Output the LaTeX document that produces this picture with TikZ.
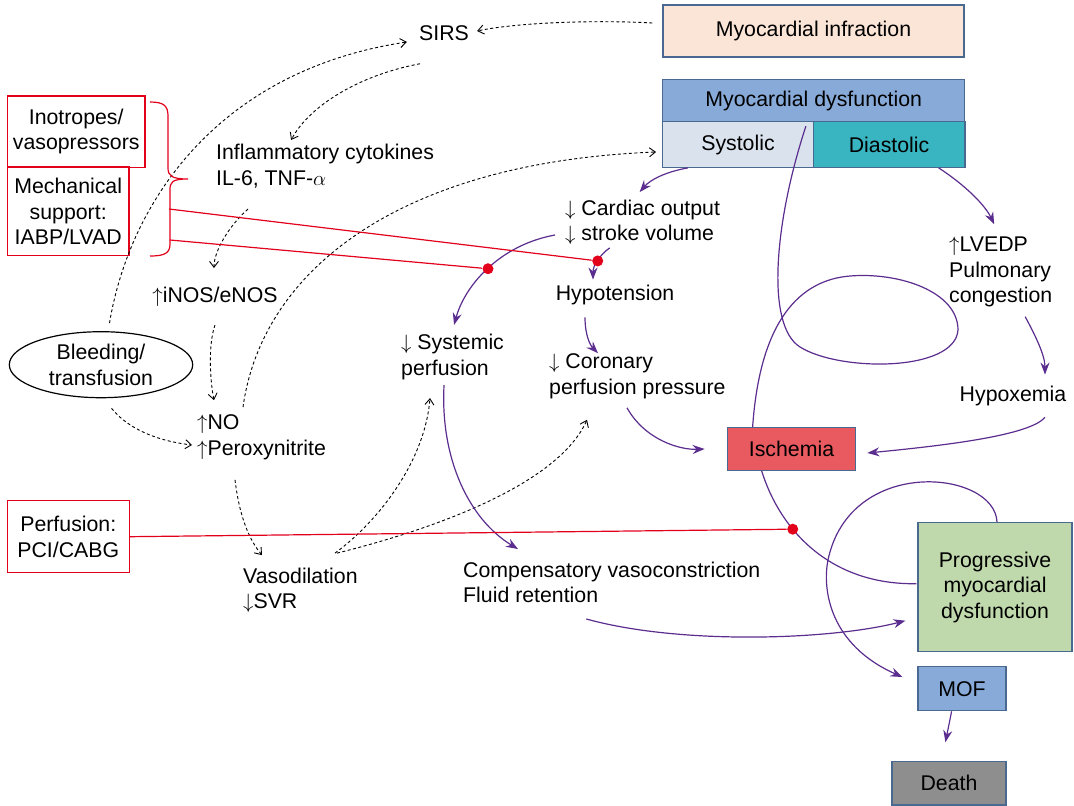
\documentclass[tikz,border=0pt]{standalone}
\usepackage{fontspec}
\setmainfont{Liberation Sans}
\usepackage{tikz}
\usetikzlibrary{arrows.meta,shapes.geometric,positioning}
\definecolor{boxline}{HTML}{4A6991}
\definecolor{mifill}{HTML}{FBE5D7}
\definecolor{dysfill}{HTML}{87AAD8}
\definecolor{sysfill}{HTML}{DAE2EE}
\definecolor{diafill}{HTML}{38B5C0}
\definecolor{ischfill}{HTML}{E85A5F}
\definecolor{progfill}{HTML}{C0D9AC}
\definecolor{deathfill}{HTML}{8E8E8E}
\definecolor{flowpurple}{HTML}{5B2D8E}
\definecolor{inhred}{HTML}{E3001B}

\begin{document}
\begin{tikzpicture}[x=1pt,y=-1pt,font=\fontsize{21.3}{25.5}\selectfont,
	box/.style={draw=boxline,line width=1.2pt,align=center,inner sep=0pt},
	redbox/.style={draw=inhred,line width=1.2pt,align=center,inner sep=0pt},
	txt/.style={inner sep=2pt,align=left},
	flow/.style={draw=flowpurple,line width=1.2pt,-{Stealth[length=12pt,width=9pt,inset=4pt]}},
	flowline/.style={draw=flowpurple,line width=1.2pt},
	dotarrow/.style={line width=0.9pt,dash pattern=on 3pt off 2.5pt,-{Straight Barb[length=6pt,width=9pt]}},
	inh/.style={draw=inhred,line width=1.2pt},
	reddot/.style={circle,fill=inhred,inner sep=0pt,minimum size=11pt}]
				\useasboundingbox (0,0) rectangle (1074,806);
				%boxes on the right
				\node[box,fill=mifill,minimum width=301pt,minimum height=52pt] (mi) at (813.5,31) {Myocardial infraction};
				\node[box,fill=dysfill,minimum width=302pt,minimum height=42.5pt] (dys) at (813.8,100.5) {Myocardial dysfunction};
				\node[box,fill=sysfill,minimum width=150.6pt,minimum height=45.5pt] (sys) at (738,144.5) {Systolic};
				\node[box,fill=diafill,minimum width=151.6pt,minimum height=45.5pt] (dia) at (889.1,144.5) {Diastolic};
				\node[box,fill=ischfill,minimum width=128.6pt,minimum height=42.3pt] (isch) at (791.5,449) {Ischemia};
				\node[box,fill=progfill,minimum width=154pt,minimum height=129pt] (prog) at (995,587.2) {Progressive\\myocardial\\dysfunction};
				\node[box,fill=dysfill,minimum width=88pt,minimum height=44pt] (mof) at (962,688.7) {MOF};
				\node[box,fill=deathfill,minimum width=114pt,minimum height=43.5pt] (death) at (949,783.3) {Death};
				%treatments on the left
				\node[redbox,minimum width=137.7pt,minimum height=71.3pt] (ino) at (76.2,131.7) {Inotropes/\\vasopressors};
				\node[redbox,minimum width=121.7pt,minimum height=88.7pt] (mech) at (68.2,211.4) {Mechanical\\support:\\IABP/LVAD};
				\node[redbox,minimum width=122pt,minimum height=72pt] (perf) at (68.3,536.7) {Perfusion:\\PCI/CABG};
				\node[ellipse,draw,line width=1.2pt,inner sep=0pt,minimum width=183.4pt,minimum height=66pt,align=center] (bleed) at (101,364.7) {Bleeding/\\transfusion};
				%plain texts
				\node[txt] (sirs) at (444,33) {SIRS};
				\node[txt,anchor=west] (cyto) at (214,166) {Inflammatory cytokines\\IL-6, TNF-$\alpha$};
				\node[txt] (inos) at (215,297) {$\uparrow$iNOS/eNOS};
				\node[txt,anchor=west] (no) at (195,437.5) {$\uparrow$NO\\$\uparrow$Peroxynitrite};
				\node[txt,anchor=west] (vaso) at (241,590.5) {Vasodilation\\$\downarrow$SVR};
				\node[txt,anchor=west] (co) at (563,222.2) {$\downarrow$ Cardiac output\\$\downarrow$ stroke volume};
				\node[txt] (hypo) at (615,294.7) {Hypotension};
				\node[txt,anchor=west] (sysp) at (399,357.2) {$\downarrow$ Systemic\\perfusion};
				\node[txt,anchor=west] (corp) at (547,376.5) {$\downarrow$ Coronary\\perfusion pressure};
				\node[txt,anchor=west] (lvedp) at (947,272) {$\uparrow$LVEDP\\Pulmonary\\congestion};
				\node[txt] (hypox) at (1013,396.4) {Hypoxemia};
				\node[txt,anchor=west] (comp) at (461,582.2) {Compensatory vasoconstriction\\Fluid retention};

				%% dotted pathways
				\draw[dotarrow] ([xshift=-10pt,yshift=8pt]mi.west) .. controls (600,20) and (520,22) .. ([xshift=6pt,yshift=2pt]sirs.east);
				\draw[dotarrow] ([xshift=8.5pt,yshift=8pt]bleed.north) .. controls (130,200) and (220,70) .. ([xshift=-10pt,yshift=-9pt]sirs.west);
				\draw[dotarrow] ([xshift=-24pt,yshift=-21pt]sirs.south) .. controls (360,75) and (310,105) .. ([xshift=-34pt,yshift=2pt]cyto.north);
				\draw[dotarrow] ([xshift=34pt,yshift=-19pt]cyto.south west) .. controls (230,225) and (214,250) .. ([xshift=-1pt,yshift=17pt]inos.north);
				\draw[dotarrow] ([yshift=-16pt]inos.south) .. controls (208,345) and (210,380) .. ([xshift=19pt,yshift=12.7pt]no.north west);
				\draw[dotarrow] ([xshift=48pt,yshift=5.7pt]no.north west) .. controls (262,270) and (400,162) .. ([xshift=-6pt,yshift=-7.5pt]sys.west);
				\draw[dotarrow] ([xshift=10.5pt,yshift=-10pt]bleed.south) .. controls (125,425) and (150,440) .. ([xshift=-3pt,yshift=-7.5pt]no.west);
				\draw[dotarrow] ([xshift=40pt,yshift=-17.7pt]no.south west) .. controls (238,505) and (245,535) .. ([xshift=21pt,yshift=10.7pt]vaso.north west);
				\draw[dotarrow] ([xshift=94pt,yshift=12.7pt]vaso.north west) .. controls (380,520) and (425,460) .. ([xshift=31pt,yshift=-16pt]sysp.south west);
				\draw[dotarrow] ([xshift=96pt,yshift=12.7pt]vaso.north west) .. controls (450,525) and (560,480) .. ([xshift=40pt,yshift=-18.7pt]corp.south west);

				%% solid pathways
				\draw[flow] ([xshift=-50pt]sys.south) .. controls (665,172) and (650,180) .. ([xshift=-3pt,yshift=5.4pt]co.north);
				\draw[flow] ([xshift=-8pt,yshift=-12.8pt]co.west) .. controls (500,245) and (465,285) .. ([xshift=1.5pt,yshift=7.4pt]sysp.north) node[reddot,pos=0.5] (d2) {};
				\draw[flow] ([xshift=-33pt,yshift=-1pt]co.south) .. controls (600,255) and (593,265) .. ([xshift=-22pt,yshift=3pt]hypo.north) node[reddot,pos=0.5] (d1) {};
				\draw[flow] ([xshift=-30pt,yshift=-10.5pt]hypo.south) .. controls (585,335) and (590,345) .. ([xshift=51pt,yshift=-1.3pt]corp.north west);
				\draw[flow] ([xshift=80pt,yshift=-6.7pt]corp.south west) .. controls (645,440) and (680,450) .. ([xshift=-22pt]isch.west);
				\draw[flow] ([xshift=49.5pt]dia.south) .. controls (965,185) and (985,205) .. ([xshift=-6.5pt,yshift=10.5pt]lvedp.north);
				\draw[flow] ([xshift=24.5pt,yshift=-7.5pt]lvedp.south) .. controls (1035,335) and (1045,355) .. ([xshift=32pt,yshift=9.7pt]hypox.north);
				\draw[flow] ([xshift=32pt,yshift=-8.8pt]hypox.south) .. controls (1030,435) and (950,445) .. ([xshift=11pt,yshift=-4pt]isch.east);
				\draw[flow] ([xshift=-8.5pt,yshift=-3pt]sysp.south) .. controls (440,460) and (470,520) .. ([xshift=57pt,yshift=10.4pt]comp.north west);
				\draw[flow] ([xshift=-25.5pt,yshift=-14pt]comp.south) .. controls (680,645) and (830,640) .. ([xshift=-12pt,yshift=-33.5pt]prog.west);
				\draw[flow] ([xshift=2pt]prog.north) .. controls (995,470) and (850,455) .. (828,560)
					.. controls (822,590) and (830,645) .. ([xshift=-15pt,yshift=11.7pt]mof.west);
				\draw[flow] ([xshift=-10.4pt]mof.south) -- ([xshift=-3.6pt,yshift=18.7pt]death.north);
				\draw[flowline] ([xshift=35pt]isch.south west) .. controls (780,530) and (830,585) .. ([xshift=-1pt,yshift=3.5pt]prog.west) node[reddot,pos=0.35] (d3) {};
				%loop from dysfunction down to ischemia
				\draw[flowline] ([xshift=-8pt,yshift=-5pt]sys.north east) .. controls (775,220) and (765,325) .. (800,347)
					.. controls (840,372) and (955,372) .. (958,330)
					.. controls (958,292) and (900,272) .. (850,276)
					.. controls (800,280) and (760,320) .. ([xshift=26pt]isch.north west);

				%% brace and inhibition lines
				\draw[inh] (150,102) .. controls (164,102) and (168,106) .. (168,116) -- (168,168)
					.. controls (168,176) and (172,179) .. (188,179)
					.. controls (172,179) and (170,182) .. (170,190) -- (170,244)
					.. controls (170,253) and (165,256) .. (150,256);
				\coordinate (b1) at (169,209);
				\coordinate (b2) at (170,240);
				\foreach \a/\b in {b1/d1, b2/d2, perf.east/d3}{
					\draw[inh] (\a) -- (\b);
					}
				\end{tikzpicture}
\end{document}
